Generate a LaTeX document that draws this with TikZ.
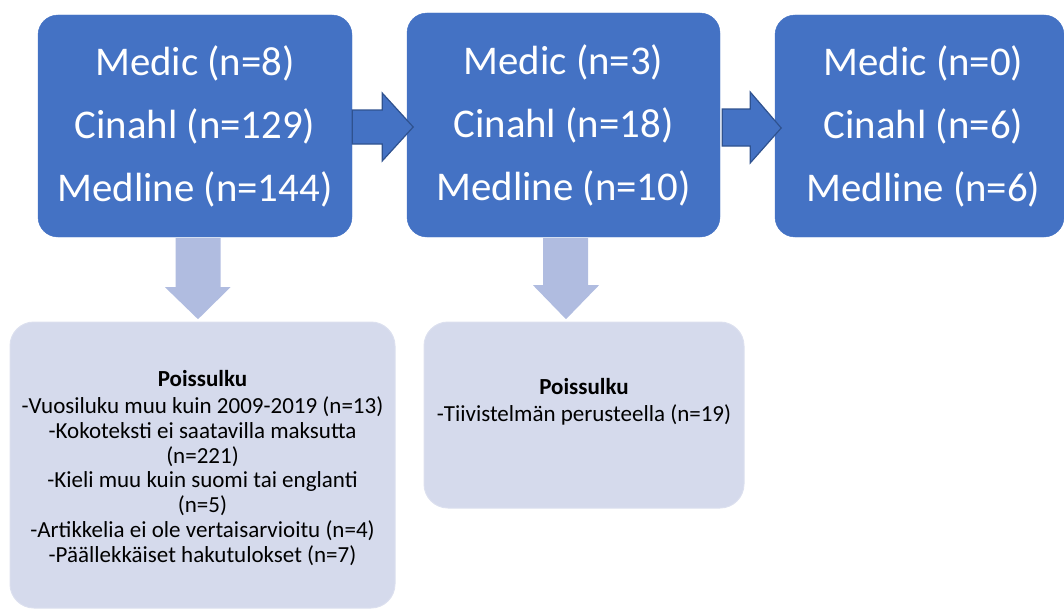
\documentclass[tikz,border=0pt]{standalone}
\usepackage{fontspec}
\setmainfont{Carlito}
\usetikzlibrary{calc}
\definecolor{boxblue}{HTML}{4472C4}
\definecolor{arrowedge}{HTML}{2F528F}
\definecolor{downfill}{HTML}{B0BCE0}
\definecolor{lightbox}{HTML}{D5DAEC}
\definecolor{lightedge}{HTML}{DCE0EF}
\begin{document}
\begin{tikzpicture}[x=1pt,y=-1pt,
  topbox/.style={fill=boxblue, draw=boxblue, rounded corners=20pt, text=white,
    align=center, font=\fontsize{40.8}{63}\selectfont, inner sep=0pt},
  lowbox/.style={fill=lightbox, draw=lightedge, line width=1pt, rounded corners=24pt, inner sep=0pt},
  lowtext/.style={align=center, font=\fontsize{23}{24.8}\selectfont, text=black, inner sep=0pt},
  rightarrow/.style={fill=boxblue, draw=arrowedge, line width=1.2pt, line join=miter},
  downarrow/.style={fill=downfill, draw=none}
]
\useasboundingbox (0,0) rectangle (1064,610);

\node[topbox, minimum width=314pt, minimum height=222pt] (b1) at (195,126)
  {Medic (n=8)\\Cinahl (n=129)\\Medline (n=144)};
\node[topbox, minimum width=313pt, minimum height=224pt] (b2) at (563.5,125)
  {Medic (n=3)\\Cinahl (n=18)\\Medline (n=10)};
\node[topbox, minimum width=289pt, minimum height=222pt] (b3) at (919.5,126)
  {\hspace*{8pt}Medic (n=0)\\\hspace*{8pt}Cinahl (n=6)\\\hspace*{8pt}Medline (n=6)};

\node[lowbox, minimum width=385pt, minimum height=286pt] (b4) at (202.5,465) {};
\node[lowbox, minimum width=320pt, minimum height=186pt] (b5) at (584,415) {};

\node[lowtext] (t4) at (202.5,468)
  {\textbf{Poissulku}\\[2pt]
   -Vuosiluku muu kuin 2009-2019 (n=13)\\
   -Kokoteksti ei saatavilla maksutta\\
   (n=221)\\
   -Kieli muu kuin suomi tai englanti\\
   (n=5)\\
   -Artikkelia ei ole vertaisarvioitu (n=4)\\
   -Päällekkäiset hakutulokset (n=7)};
\node[lowtext] (t5) at (584,402)
  {\textbf{Poissulku}\\[2pt]
   -Tiivistelmän perusteella (n=19)};

% right arrows
\draw[rightarrow] ($(b1.east)+(0,-16)$) -- ++(30,0) -- ++(0,-17) -- ($(b1.east)+(61,1)$)
  -- ($(b1.east)+(30,35)$) -- ++(0,-17) -- ($(b1.east)+(0,18)$) -- cycle;
\draw[rightarrow] ($(b2.east)+(2,-16)$) -- ++(28,0) -- ++(0,-17) -- ($(b2.east)+(61,3)$)
  -- ($(b2.east)+(30,38)$) -- ++(0,-17) -- ($(b2.east)+(2,21)$) -- cycle;

% down arrows
\fill[downarrow] ($(b1.south)+(-19.5,1)$) -- ++(45,0) -- ++(0,49) -- ++(10,0)
  -- ($(b1.south)+(3,82)$) -- ($(b1.south)+(-30,50)$) -- ++(10.5,0) -- cycle;
\fill[downarrow] ($(b2.south)+(-20.5,1)$) -- ++(45,0) -- ++(0,47) -- ++(11,0)
  -- ($(b2.south)+(2.5,82)$) -- ($(b2.south)+(-30.5,48)$) -- ++(10,0) -- cycle;
\end{tikzpicture}
\end{document}
